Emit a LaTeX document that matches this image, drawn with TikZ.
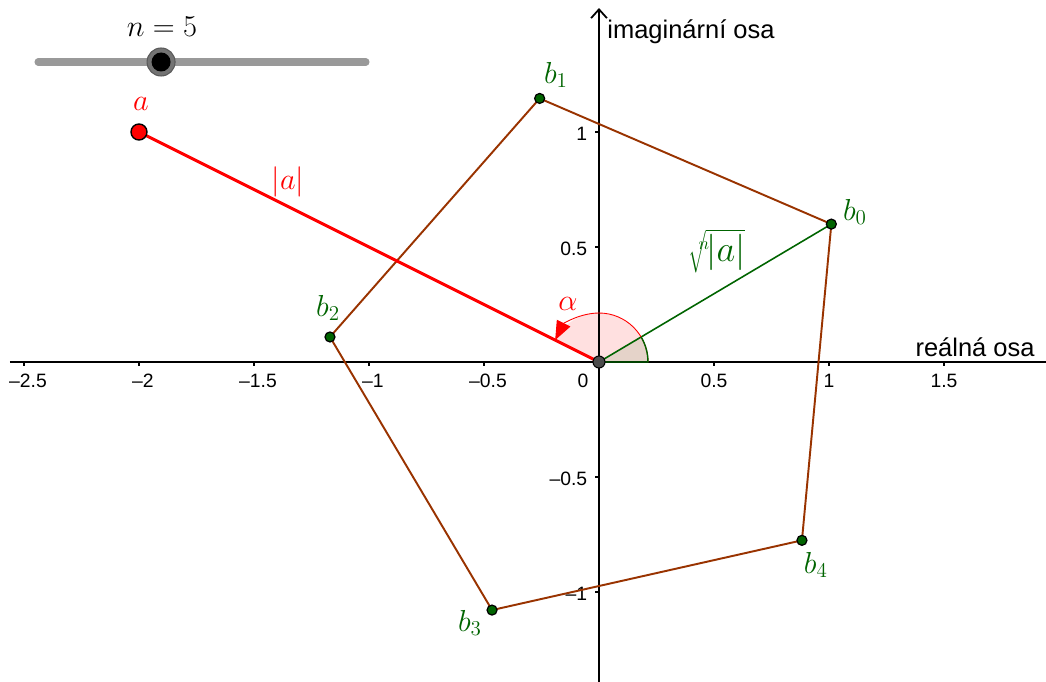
\documentclass[tikz,border=0pt]{standalone}
\usepackage{fontspec}
\newfontfamily\axisfont{Liberation Sans}
\usetikzlibrary{arrows.meta}
\definecolor{gbrown}{RGB}{153,51,0}
\definecolor{ggreen}{RGB}{0,100,0}
\definecolor{sliderg}{RGB}{153,153,153}
\begin{document}
\begin{tikzpicture}[x=4.6cm,y=4.6cm,
  axis/.style={line width=1pt,black},
  ticklbl/.style={font=\axisfont\fontsize{11}{13}\selectfont, inner sep=0pt},
  axlbl/.style={font=\axisfont\fontsize{14.5}{17}\selectfont, inner sep=0pt},
  mlbl/.style={font=\fontsize{17.5}{20}\selectfont, inner sep=0pt},
  bpt/.style={circle, draw=black, fill=ggreen, line width=0.7pt, minimum size=0.2cm, inner sep=0pt},
  poly/.style={gbrown, line width=1.1pt},
]
\useasboundingbox (-2.6043,-1.3913) rectangle (1.9435,1.5739);

% coordinates
\coordinate (O) at (0,0);
\coordinate (A) at (-2,1);
\coordinate (B0) at (1.0102,0.5995);
\coordinate (B1) at (-0.2580,1.1459);
\coordinate (B2) at (-1.1696,0.1088);
\coordinate (B3) at (-0.4650,-1.0786);
\coordinate (B4) at (0.8824,-0.7754);

% angle fills
\fill[red!12] (O) -- (0.213,0) arc[start angle=0,end angle=153.435,radius=0.213] -- cycle;
\fill[ggreen, opacity=0.1] (O) -- (0.213,0) arc[start angle=0,end angle=30.687,radius=0.213] -- cycle;

% axes
\coordinate (XL) at (-2.561,0);
\coordinate (XR) at (1.96,0);
\coordinate (YB) at (0,-1.40);
\coordinate (YT) at (0,1.539);
\draw[axis, line width=1.2pt] (XL) -- (XR);
\draw[axis, -{Straight Barb[length=5pt,width=9pt]}] (YB) -- (YT);

\foreach \v/\t [count=\i] in {-2.5/{–2.5},-2/{–2},-1.5/{–1.5},-1/{–1},-0.5/{–0.5}} {
  \draw[axis] (\v,0) -- (\v,-0.018);
  \node[ticklbl] (tx\i) at ([xshift=0.08cm]\v,-0.083) {\t};
}
\foreach \v/\t [count=\i] in {0.5/0.5,1/1,1.5/1.5} {
  \draw[axis] (\v,0) -- (\v,-0.018);
  \node[ticklbl] (tp\i) at (\v,-0.083) {\t};
}
\node[ticklbl, anchor=east] (t0) at (-0.045,-0.083) {0};
\foreach \v/\t [count=\i] in {1/1,0.5/0.5,-0.5/{–0.5},-1/{–1}} {
  \draw[axis] (0,\v) -- (-0.018,\v);
  \node[ticklbl, anchor=east] (ty\i) at (-0.05,\v-0.008) {\t};
}
\node[axlbl] (xlab) at (1.635,0.065) {reálná osa};
\node[axlbl] (ylab) at (0.40,1.435) {imaginární osa};

% polygon
\draw[poly] (B0) -- (B1) -- (B2) -- (B3) -- (B4) -- cycle;

% red line and green line
\draw[red, line width=1.7pt] (A) -- (O);
\draw[ggreen, line width=0.9pt] (O) -- (B0);

% angle arcs
\draw[red, line width=0.5pt, -{Triangle[length=0.38cm,width=0.3cm]}] (0.213,0) arc[start angle=0,end angle=153.435,radius=0.213];
\draw[ggreen, line width=0.8pt] (O) -- (0.213,0) arc[start angle=0,end angle=30.687,radius=0.213];

% points
\node[circle, draw=black, fill=black!70, line width=0.6pt, minimum size=0.24cm, inner sep=0pt] (o) at (O) {};
\node[circle, draw=black, fill=red, line width=0.8pt, minimum size=0.32cm, inner sep=0pt] (a) at (A) {};
\foreach \k in {0,...,4} {
  \node[bpt] (b\k) at (B\k) {};
}

% labels
\node[mlbl, text=red] (la) at (-1.991,1.1217) {$a$};
\node[mlbl, text=red] (labs) at (-1.352,0.7826) {$|a|$};
\node[mlbl, text=red] (lal) at (-0.135,0.252) {$\alpha$};
\node[mlbl, text=ggreen, font=\fontsize{20}{24}\selectfont] (lroot) at (0.513,0.482) {$\sqrt[n]{|a|}$};
\node[mlbl, text=ggreen] (lb0) at (1.113,0.652) {$b_0$};
\node[mlbl, text=ggreen] (lb1) at (-0.187,1.248) {$b_1$};
\node[mlbl, text=ggreen] (lb2) at (-1.178,0.235) {$b_2$};
\node[mlbl, text=ggreen] (lb3) at (-0.561,-1.135) {$b_3$};
\node[mlbl, text=ggreen] (lb4) at (0.943,-0.883) {$b_4$};

% slider
\coordinate (S1) at (-2.439,1.3043);
\coordinate (S2) at (-1.013,1.3043);
\draw[sliderg, line width=4pt, line cap=round] (S1) -- (S2);
\node[circle, fill=black!55, draw=black!65, line width=0.6pt, minimum size=0.56cm, inner sep=0pt] (knobh) at (-1.904,1.3043) {};
\node[circle, fill=black, minimum size=0.38cm, inner sep=0pt] (knob) at (-1.904,1.3043) {};
\node[mlbl] (ln) at (-1.9,1.4565) {$n=5$};
\end{tikzpicture}
\end{document}
